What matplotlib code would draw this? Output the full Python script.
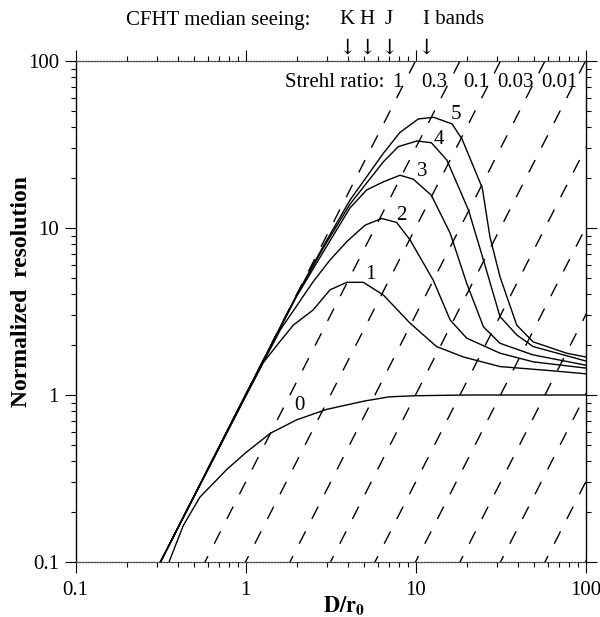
import numpy as np
import matplotlib
matplotlib.use('Agg')
import matplotlib.pyplot as plt
from matplotlib import transforms
from matplotlib.ticker import FixedLocator, FixedFormatter, NullFormatter

plt.rcParams['font.family'] = ['Liberation Serif', 'DejaVu Serif']
plt.rcParams['mathtext.fontset'] = 'stix'

# ---------------- data ----------------
x_c0 = [0.355, 0.43, 0.54, 0.78, 1.0, 1.4, 2.0, 3.0, 5.0, 7.0, 10, 20, 50, 100]
y_c0 = [0.1, 0.165, 0.245, 0.36, 0.45, 0.59, 0.71, 0.82, 0.92, 0.975, 0.99, 1.0, 1.0, 1.0]

x_c1 = [0.316, 1.0, 1.27, 1.6, 1.91, 2.5, 3.14, 3.94, 4.93, 6.47, 9.3, 13.3, 19.1, 31.4, 61.8, 100]
y_c1 = [0.1, 0.98, 1.56, 2.1, 2.62, 3.23, 4.26, 4.73, 4.73, 3.97, 2.69, 1.95, 1.69, 1.48, 1.40, 1.34]

x_c2 = [0.316, 1.0, 1.6, 2.5, 3.14, 3.94, 5.05, 6.33, 7.74, 9.3, 12.7, 16.0, 20.0, 31.4, 49.2, 100]
y_c2 = [0.1, 0.98, 2.45, 4.77, 6.43, 8.28, 10.4, 11.4, 10.8, 8.47, 4.88, 2.81, 2.19, 1.78, 1.58, 1.45]

x_c3 = [0.316, 1.0, 2.0, 2.87, 4.12, 5.16, 6.47, 8.1, 9.7, 12.4, 16.0, 20.0, 25.1, 31.4, 49.0, 100]
y_c3 = [0.1, 1.0, 3.9, 7.2, 13.2, 16.9, 18.9, 20.7, 19.6, 15.7, 9.3, 4.67, 2.56, 2.04, 1.74, 1.51]

x_c4 = [0.316, 1.0, 2.0, 2.87, 4.12, 6.47, 7.92, 10.2, 12.4, 15.3, 20.5, 25.1, 31.4, 39.4, 49.2, 100]
y_c4 = [0.1, 1.0, 3.95, 7.6, 13.9, 24.9, 30.7, 33.2, 32.4, 25.5, 12.8, 6.43, 2.95, 2.29, 1.95, 1.60]

x_c5 = [0.316, 1.0, 2.0, 2.87, 4.12, 6.47, 8.09, 10.4, 12.8, 16.4, 18.8, 24.7, 27.4, 31.4, 39.4, 49.2, 77.4, 100]
y_c5 = [0.1, 1.0, 3.97, 7.8, 14.7, 28.0, 37.3, 45.0, 46.0, 42.0, 34.0, 17.4, 8.87, 5.11, 2.62, 2.08, 1.78, 1.69]

curve_labels = ['0', '1', '2', '3', '4', '5']
curve_label_x = [2.09, 5.4, 8.3, 11.0, 13.8, 17.2]
curve_label_y = [0.87, 5.24, 11.8, 21.7, 34.0, 48.0]

# Strehl ratio lines: resolution = S * (D/r0)^2
strehl_values = [1, 0.3, 0.1, 0.03, 0.01, 0.003, 0.001, 3e-4, 1e-4, 3e-5, 1e-5]
strehl_labels = ['1', '0.3', '0.1', '0.03', '0.01']
strehl_label_x = [7.85, 12.9, 22.7, 39.0, 69.8]

band_labels = ['K', 'H', 'J']
band_x = [3.96, 5.19, 6.98, 11.5]

tick_vals = [0.1, 1, 10, 100]
tick_labels = ['0.1', '1', '10', '100']

# ---------------- figure ----------------
fig = plt.figure(figsize=(6.0, 6.17), dpi=100)
ax = fig.add_axes([75.5 / 600, 1 - 562 / 617, 510 / 600, 501 / 617])
ax.set_xscale('log')
ax.set_yscale('log')
ax.set_xlim(0.1, 100)
ax.set_ylim(0.1, 100)

xs = np.array([0.01, 1000.0])
for s in strehl_values:
    ax.plot(xs, s * xs ** 2, color='black', lw=1.0, dashes=(10, 10))

for xc, yc in [(x_c0, y_c0), (x_c1, y_c1), (x_c2, y_c2), (x_c3, y_c3), (x_c4, y_c4), (x_c5, y_c5)]:
    ax.plot(xc, yc, color='black', lw=1.0, solid_joinstyle='miter')

for lab, lx, ly in zip(curve_labels, curve_label_x, curve_label_y):
    ax.text(lx, ly, lab, fontsize=15, ha='center', va='center')

y_strehl = 74.8
ax.text(6.6, y_strehl, 'Strehl ratio:', fontsize=15, ha='right', va='center')
for lab, lx in zip(strehl_labels, strehl_label_x):
    ax.text(lx, y_strehl, lab, fontsize=15, ha='center', va='center')

# header
trans = transforms.blended_transform_factory(ax.transData, fig.transFigure)
fig.text(126 / 600, 1 - 20 / 617, 'CFHT median seeing:', fontsize=15, ha='left', va='center')
for lab, bx in zip(band_labels, band_x[:3]):
    ax.text(bx, 1 - 20 / 617, lab, fontsize=15, ha='center', va='center', transform=trans)
ax.text(band_x[3] * 0.96, 1 - 20 / 617, 'I bands', fontsize=15, ha='left', va='center', transform=trans)
for bx in band_x:
    ax.text(bx, 1 - 48 / 617, '\u2193', fontsize=15, ha='center', va='center', transform=trans,
            family=['DejaVu Serif'])

# axes styling
for side in ['left', 'right']:
    ax.spines[side].set_linewidth(1.0)
for side in ['top', 'bottom']:
    ax.spines[side].set_linestyle((0, (1.2, 1.2)))
    ax.spines[side].set_linewidth(0.9)
    ax.spines[side].set_color('0.25')

ax.xaxis.set_major_locator(FixedLocator(tick_vals))
ax.yaxis.set_major_locator(FixedLocator(tick_vals))
ax.xaxis.set_major_formatter(FixedFormatter(tick_labels))
ax.yaxis.set_major_formatter(FixedFormatter(tick_labels))
minors = [m * 10.0 ** e for e in (-1, 0, 1) for m in range(2, 10)]
ax.xaxis.set_minor_locator(FixedLocator(minors))
ax.yaxis.set_minor_locator(FixedLocator(minors))
ax.xaxis.set_minor_formatter(NullFormatter())
ax.yaxis.set_minor_formatter(NullFormatter())
ax.tick_params(which='both', direction='out', top=True, right=True, labeltop=False, labelright=False,
               labelsize=15, width=0.8)
ax.tick_params(which='major', length=8, pad=6)
ax.tick_params(which='minor', length=3.5)
ax.tick_params(axis='y', which='major', pad=4)

ax.set_xlabel(r'$\mathbf{D/r_0}$', fontsize=16)
ax.xaxis.set_label_coords(0.526, -0.066)
ax.set_ylabel('Normalized  resolution', fontsize=17, fontweight='bold')
ax.yaxis.set_label_coords(-0.085, 0.54)

fig.savefig('out.png', dpi=100)
